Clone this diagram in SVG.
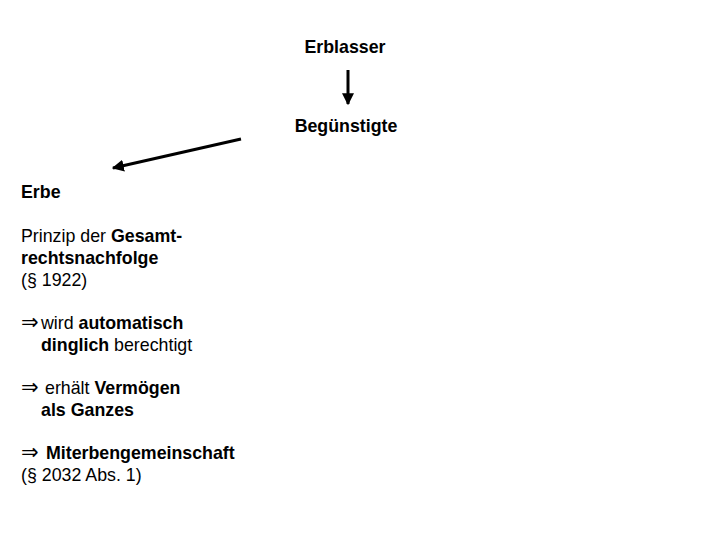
<svg xmlns="http://www.w3.org/2000/svg" width="720" height="540" viewBox="0 0 720 540">
<style>
text{font-family:"Liberation Sans",Arial,"DejaVu Sans",sans-serif;font-size:17.8px;fill:#000}
.b{font-weight:bold}
.c{text-anchor:middle}
.s{font-family:"DejaVu Sans",sans-serif;font-weight:normal;font-size:21px}
.arr{stroke:#000;stroke-width:3;fill:none}
</style>
<defs>
<marker id="ah" viewBox="0 0 10 10" refX="9" refY="5" markerWidth="4" markerHeight="4" orient="auto" markerUnits="strokeWidth">
<path d="M0,0 L10,5 L0,10 z" fill="#000"/>
</marker>
</defs>
<rect width="720" height="540" fill="#fff"/>
<g id="erblasser"><text class="c b" x="345" y="53">Erblasser</text></g>
<g id="beguenstigte"><text class="c b" x="346" y="132">Begünstigte</text></g>
<g id="erbe">
<text class="b" x="21" y="198">Erbe</text>
<text x="21" y="242">Prinzip der <tspan class="b">Gesamt-</tspan></text>
<text class="b" x="21" y="264">rechtsnachfolge</text>
<text x="21" y="286">(§ 1922)</text>
<text x="21" y="329"><tspan class="s">⇒</tspan><tspan x="41">wird</tspan> <tspan class="b">automatisch</tspan></text>
<text x="41" y="351"><tspan class="b">dinglich</tspan> berechtigt</text>
<text x="21" y="394"><tspan class="s">⇒</tspan><tspan x="45">erhält</tspan> <tspan class="b">Vermögen</tspan></text>
<text class="b" x="41" y="416">als Ganzes</text>
<text x="21" y="459"><tspan class="s">⇒</tspan><tspan x="46" class="b">Miterbengemeinschaft</tspan></text>
<text x="21" y="481">(§ 2032 Abs. 1)</text>
</g>
<g id="connectors">
<line class="arr" x1="348" y1="70" x2="348" y2="104" marker-end="url(#ah)"/>
<line class="arr" x1="241" y1="139" x2="113" y2="168" marker-end="url(#ah)"/>
</g>
</svg>
